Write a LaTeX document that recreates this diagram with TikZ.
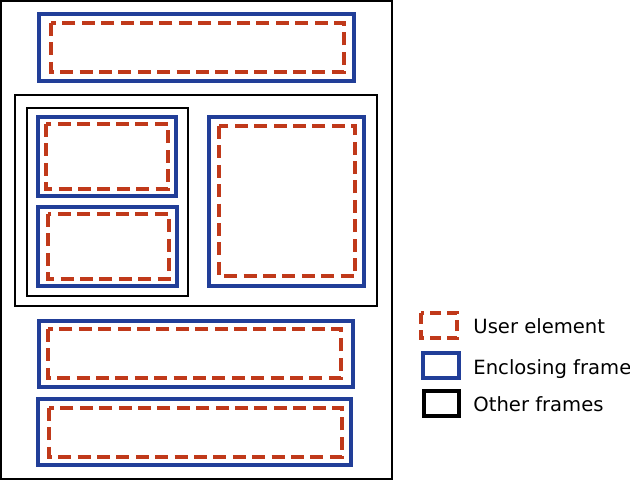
\documentclass[tikz,border=0pt]{standalone}
\usepackage{fontspec}
\setmainfont{DejaVu Sans}
\definecolor{elemred}{RGB}{192,57,26}
\definecolor{frameblue}{RGB}{33,62,152}
\begin{document}
\begin{tikzpicture}[x=0.5pt,y=-0.5pt,
    userel/.style={draw=elemred,line width=2pt,dash pattern=on 6.5pt off 3.2pt},
    encframe/.style={draw=frameblue,line width=1.8pt},
    otherframe/.style={draw=black,line width=0.8pt},
    legtext/.style={anchor=base west,inner sep=0pt,font=\fontsize{9.8}{11.7}\selectfont}]
      \useasboundingbox (0,0) rectangle (630,481);
      \draw[otherframe] (1,1) rectangle (392,479);
      \draw[otherframe] (15,95) rectangle (377,306);
      \draw[otherframe] (27,108) rectangle (188,296);
      \begin{scope}[encframe]
        \draw (39,14) rectangle (354,81);
        \draw (38,117) rectangle (176,196);
        \draw (38,207) rectangle (177,286);
        \draw (209,117) rectangle (364,286);
        \draw (39,321) rectangle (353,387);
        \draw (38,399) rectangle (351,465);
      \end{scope}
      \begin{scope}[userel]
        \draw (51,23) rectangle (344,72);
        \draw (46,124) rectangle (168,189);
        \draw (48,214) rectangle (169,279);
        \draw (219,126) rectangle (355,276);
        \draw (48,329) rectangle (341,378);
        \draw (49,408) rectangle (342,457);
      \end{scope}
      % legend
      \draw[userel,dash pattern=on 5.5pt off 3pt] (421,313) rectangle (457,338);
      \draw[encframe] (423,353) rectangle (459,378);
      \draw[otherframe,line width=1.6pt] (424,391) rectangle (459,416);
      \node[legtext] (user) at (473,333) {User element};
      \node[legtext] (enclosing) at (473,374) {Enclosing frame};
      \node[legtext] (other) at (473,411) {Other frames};
    \end{tikzpicture}
\end{document}
